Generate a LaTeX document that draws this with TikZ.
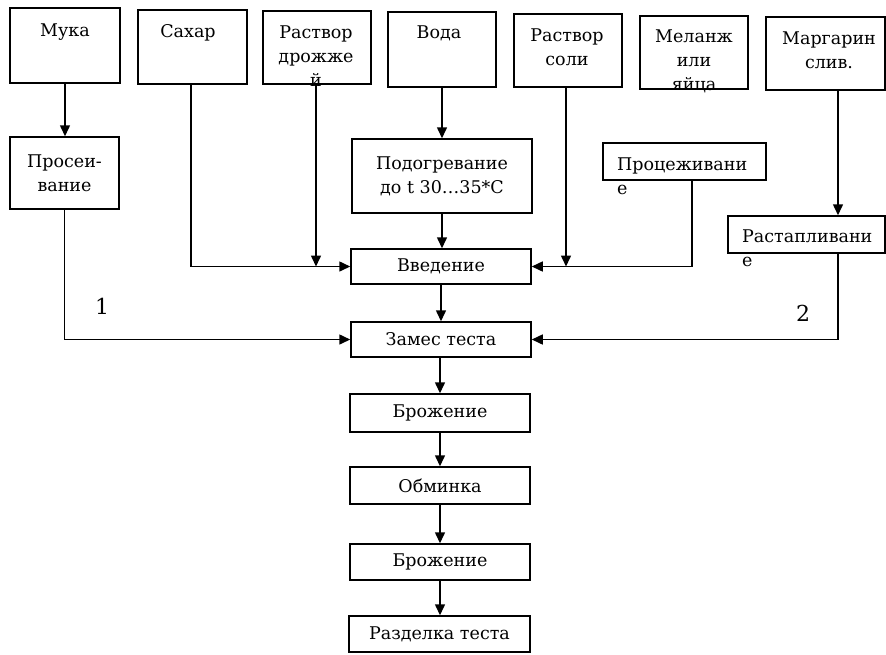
\documentclass[tikz,border=0pt]{standalone}
\usepackage{fontspec}
\setmainfont{DejaVu Serif}
\usetikzlibrary{arrows.meta}
\begin{document}
\begin{tikzpicture}[x=1pt,y=-1pt,
  box/.style={draw, line width=1.5pt, inner sep=0pt},
  txt/.style={font=\fontsize{17.5}{24}\selectfont, inner sep=0pt, align=center},
  ltxt/.style={font=\fontsize{17.5}{24}\selectfont, inner sep=0pt, align=left},
  arr/.style={line width=1.5pt, -{Triangle[length=11pt,width=10pt]}},
  num/.style={font=\fontsize{22}{26}\selectfont, inner sep=0pt}]
\useasboundingbox (0,0) rectangle (886,654);
% top row
\node[box, minimum width=110pt, minimum height=75pt] (muka) at (65,45.5) {};
\node[box, minimum width=109pt, minimum height=74pt] (sahar) at (192.5,47) {};
\node[box, minimum width=108pt, minimum height=73pt] (drozh) at (317,47.5) {};
\node[box, minimum width=108pt, minimum height=75pt] (voda) at (442,49.5) {};
\node[box, minimum width=108pt, minimum height=73pt] (sol) at (568,50.5) {};
\node[box, minimum width=108pt, minimum height=73pt] (melanzh) at (694,52.5) {};
\node[box, minimum width=119pt, minimum height=73pt] (marg) at (825.5,53.5) {};
\node[txt, anchor=north] (mukaT) at (65,24) {Мука};
\node[txt, anchor=north] (saharT) at (188,24) {Сахар};
\node[txt, anchor=north] (drozhT) at (316,26) {Раствор\\дрожже\\й};
\node[txt, anchor=north] (vodaT) at (439,26) {Вода};
\node[txt, anchor=north] (solT) at (567,29) {Раствор\\соли};
\node[txt, anchor=north] (melanzhT) at (694,30) {Меланж\\или\\яйца};
\node[txt, anchor=north] (margT) at (829,32) {Маргарин\\слив.};
% second level
\node[box, txt, minimum width=109pt, minimum height=72pt] (pros) at (64.5,173) {Просеи-\\вание};
\node[box, txt, minimum width=180pt, minimum height=74pt] (podog) at (442,176) {Подогревание\\до t 30…35*С};
\node[box, minimum width=163pt, minimum height=37pt] (proc) at (684.5,161.5) {};
\node[ltxt, anchor=north west] (procT) at (617,158) {Процеживани\\е};
\node[box, minimum width=157pt, minimum height=37pt] (rast) at (806.5,234.5) {};
\node[ltxt, anchor=north west] (rastT) at (742,230) {Растапливани\\е};
% main column
\node[box, txt, minimum width=180pt, minimum height=35pt] (vved) at (441,266.5) {Введение};
\node[box, txt, minimum width=180pt, minimum height=35pt] (zames) at (441,339.5) {Замес теста};
\node[box, txt, minimum width=180pt, minimum height=38pt] (brozh1) at (440,413) {Брожение};
\node[box, txt, minimum width=180pt, minimum height=37pt] (obm) at (440,485.5) {Обминка};
\node[box, txt, minimum width=180pt, minimum height=36pt] (brozh2) at (440,562) {Брожение};
\node[box, txt, minimum width=181pt, minimum height=36pt] (razd) at (439.5,634) {Разделка теста};
% labels
\node[num] (n1) at (102,306) {1};
\node[num] (n2) at (803,313) {2};
% connector x positions
\coordinate (sx) at (191,0);
\coordinate (dx) at (316,0);
\coordinate (slx) at (566,0);
\coordinate (px) at (692,0);
\coordinate (mx) at (838,0);
% connectors
\draw[arr] (muka.south) -- (muka.south |- pros.north);
\draw[arr] (sahar.south -| sx) |- (vved.west);
\draw[arr] (drozh.south -| dx) -- (dx |- vved.west);
\draw[arr] (voda.south) -- (voda.south |- podog.north);
\draw[arr] (podog.south) -- (podog.south |- vved.north);
\draw[arr] (sol.south -| slx) -- (slx |- vved.east);
\draw[arr] (proc.south -| px) |- (vved.east);
\draw[arr] (marg.south -| mx) -- (mx |- rast.north);
\draw[arr] (rast.south -| mx) |- (zames.east);
\draw[arr] (pros.south) |- (zames.west);
\draw[arr] (vved.south) -- (vved.south |- zames.north);
\draw[arr] (brozh1.north |- zames.south) -- (brozh1.north);
\draw[arr] (brozh1.south) -- (obm.north);
\draw[arr] (obm.south) -- (brozh2.north);
\draw[arr] (brozh2.south) -- (brozh2.south |- razd.north);
\end{tikzpicture}
\end{document}
